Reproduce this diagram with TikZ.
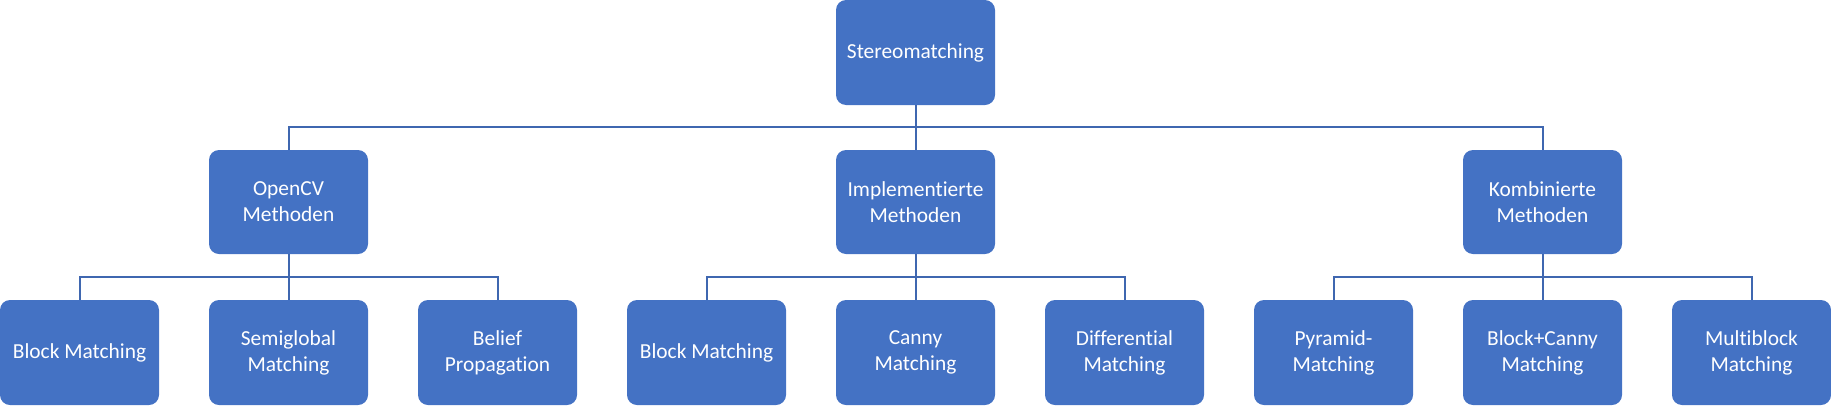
\documentclass[tikz,border=0pt]{standalone}
\usepackage{fontspec}
\setmainfont{Carlito}[Ligatures={NoCommon,NoRequired,NoContextual}]
\definecolor{boxblue}{HTML}{4472C4}
\definecolor{lineblue}{HTML}{3F67B0}
\begin{document}
\begin{tikzpicture}[x=1pt,y=-1pt,
  box/.style={fill=boxblue, draw=none, rounded corners=10pt, minimum width=159pt, minimum height=105pt,
    inner sep=0pt, text=white, align=center, font=\fontsize{21.4}{26}\selectfont},
  conn/.style={draw=lineblue, line width=2pt}]
\useasboundingbox (0,0) rectangle (1831,405);
\node[box] (root) at (915.5,52.5) {Stereomatching};
\node[box, minimum height=104pt] (a) at (288.5,202) {OpenCV\\Methoden};
\node[box, minimum height=104pt] (b) at (915.5,202) {Implementierte\\Methoden};
\node[box, minimum height=104pt] (c) at (1542.5,202) {Kombinierte\\Methoden};
\node[box] (a1) at (79.5,352.5) {Block Matching};
\node[box] (a2) at (288.5,352.5) {Semiglobal\\Matching};
\node[box] (a3) at (497.5,352.5) {Belief\\Propagation};
\node[box] (b1) at (706.5,352.5) {Block Matching};
\node[box] (b2) at (915.5,352.5) {Canny\\Matching};
\node[box] (b3) at (1124.5,352.5) {Differential\\Matching};
\node[box] (c1) at (1333.5,352.5) {Pyramid-\\Matching};
\node[box] (c2) at (1542.5,352.5) {Block+Canny\\Matching};
\node[box] (c3) at (1751.5,352.5) {Multiblock\\Matching};
% connectors
\coordinate (hr) at (0,127);
\coordinate (ha) at (0,277);
\foreach \p/\k in {root/a,root/b,root/c}{
  \draw[conn] (\p.south) -- (\p.south |- hr) -| (\k.north);
}
\foreach \p/\k in {a/a1,a/a2,a/a3,b/b1,b/b2,b/b3,c/c1,c/c2,c/c3}{
  \draw[conn] (\p.south) -- (\p.south |- ha) -| (\k.north);
}
\end{tikzpicture}
\end{document}
